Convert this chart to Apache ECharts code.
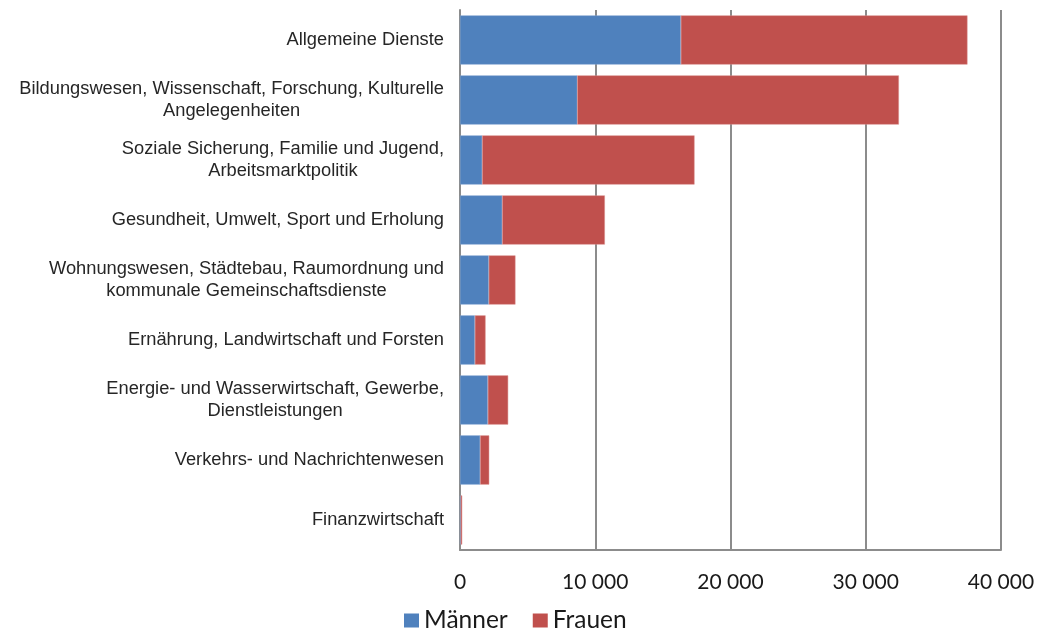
<!DOCTYPE html>
<html>
<head>
<meta charset="utf-8">
<script src="https://cdn.jsdelivr.net/npm/echarts@6/dist/echarts.min.js"></script>
<style>
  html, body { margin: 0; padding: 0; background: #fff; }
  #chart { width: 1043px; height: 629px; }
</style>
</head>
<body>
<div id="chart"></div>
<script>
// categories, top to bottom
const categories = [
  'Allgemeine Dienste',
  'Bildungswesen, Wissenschaft, Forschung, Kulturelle\nAngelegenheiten',
  'Soziale Sicherung, Familie und Jugend,\nArbeitsmarktpolitik',
  'Gesundheit, Umwelt, Sport und Erholung',
  'Wohnungswesen, Städtebau, Raumordnung und\nkommunale Gemeinschaftsdienste',
  'Ernährung, Landwirtschaft und Forsten',
  'Energie- und Wasserwirtschaft, Gewerbe,\nDienstleistungen',
  'Verkehrs- und Nachrichtenwesen',
  'Finanzwirtschaft'
]
const maenner = [16330, 8670, 1640, 3120, 2130, 1100, 2060, 1490, 50]
const frauen = [21190, 23780, 15700, 7590, 1970, 790, 1500, 670, 110]
const xTicks = [0, 10000, 20000, 30000, 40000]

const chart = echarts.init(document.getElementById('chart'))

chart.setOption({
  animation: false,
  grid: {
    left: 460,
    right: 42,
    top: 10,
    bottom: 79,
  },
  legend: {
    data: ['Männer', 'Frauen'],
    left: 399,
    top: 603,
    icon: 'rect',
    itemWidth: 15,
    itemHeight: 14,
    itemGap: 25,
    itemStyle: { borderWidth: 0 },
    textStyle: {
      fontFamily: 'Lato',
      fontSize: 24.5,
      color: '#1a1a1a',
    },
  },
  xAxis: {
    type: 'value',
    min: xTicks[0],
    max: xTicks[xTicks.length - 1],
    interval: 10000,
    axisLine: { show: true, lineStyle: { color: '#8c8c8c', width: 2 } },
    axisTick: { show: false },
    splitLine: { lineStyle: { color: '#8c8c8c', width: 2 } },
    axisLabel: {
      margin: 22,
      fontFamily: 'Lato',
      fontSize: 21,
      color: '#1a1a1a',
      formatter: v => String(v).replace(/\B(?=(\d{3})+(?!\d))/g, ' '),
    },
  },
  yAxis: {
    type: 'category',
    inverse: true,
    data: categories,
    axisLine: { show: true, lineStyle: { color: '#8c8c8c', width: 2 } },
    axisTick: { show: false },
    axisLabel: {
      margin: 16,
      align: 'right',
      // lines centred within each label block
      formatter: v => v.split('\n').map(s => '{c|' + s + '}').join('\n'),
      rich: {
        c: {
          fontFamily: 'Liberation Sans',
          fontSize: 18.3,
          lineHeight: 22,
          color: '#262626',
          align: 'center',
        },
      },
    },
  },
  series: [
    {
      name: 'Männer',
      type: 'bar',
      stack: 'total',
      barCategoryGap: '18%',
      itemStyle: { color: '#4f81bd', borderColor: '#7fa3d0', borderWidth: 0.5 },
      data: maenner,
    },
    {
      name: 'Frauen',
      type: 'bar',
      stack: 'total',
      barCategoryGap: '18%',
      itemStyle: { color: '#c0504d', borderColor: '#d98a88', borderWidth: 0.5 },
      data: frauen,
    },
  ],
})
</script>
</body>
</html>
